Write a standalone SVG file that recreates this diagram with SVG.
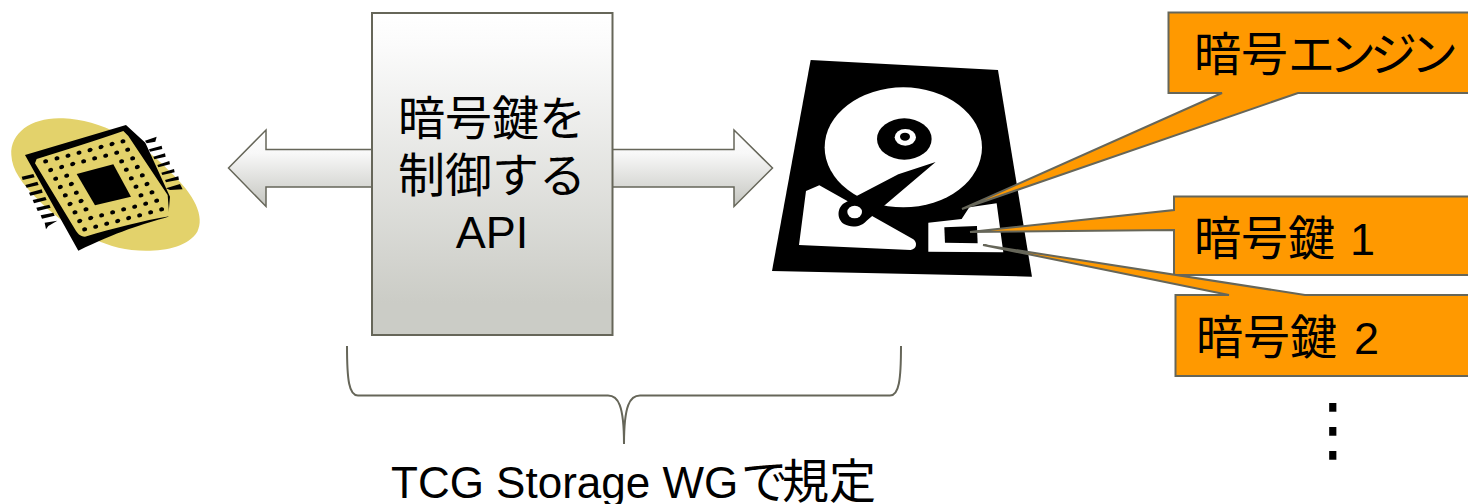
<svg xmlns="http://www.w3.org/2000/svg" width="1468" height="504" viewBox="0 0 1468 504">
  <style>
    text { font-family: "Liberation Sans", "Noto Sans CJK JP", sans-serif; fill: #000; }
    .api { font-size: 47px; text-anchor: middle; }
    .tag { font-size: 47px; }
    .edge { stroke: #666659; stroke-width: 2; stroke-linejoin: miter; }
    .callout { fill: #ff9900; stroke: #666659; stroke-width: 2; stroke-linejoin: miter; }
  </style>
  <defs>
    <linearGradient id="steel" x1="0" y1="0" x2="0" y2="1">
      <stop offset="0" stop-color="#ffffff"/>
      <stop offset="0.1" stop-color="#fbfbfb"/>
      <stop offset="0.9" stop-color="#cbccc6"/>
      <stop offset="1" stop-color="#cbccc6"/>
    </linearGradient>
    <linearGradient id="steel-arrow" gradientUnits="userSpaceOnUse" x1="0" y1="130" x2="0" y2="207">
      <stop offset="0" stop-color="#ffffff"/>
      <stop offset="0.3" stop-color="#f8f8f8"/>
      <stop offset="1" stop-color="#c4c5bf"/>
    </linearGradient>
    <g id="pad"><ellipse rx="7.600" ry="6.300" transform="rotate(-15)"/></g>
  </defs>

  <!-- processor chip clip art, coordinates at 3x -->
  <g id="chip" transform="translate(0 100) scale(0.3333)">
    <path fill="#e3d26b" d="M34 165C30 95 100 50 190 55C300 60 420 120 510 215C585 285 615 350 592 395C562 445 475 458 395 450C290 437 190 375 115 300C65 250 36 210 34 165Z"/>
    <path fill="#000" d="M378 75L436 128L510 290L505 350C430 372 350 395 235 452L75 165Z"/>
    <path fill="#e3d26b" d="M110 177C200 150 290 120 370 93L385 108L503 285L508 349C430 362 340 385 255 410C240 410 232 400 225 388L105 190Z"/>
    <path fill="#000" d="M230 222L340 193L393 290L285 316Z"/>
    <g fill="#000">
      <path d="M435 122L470 110L466 125L440 130Z"/>
      <path d="M447 148L485 137L487 147L450 155Z"/>
      <path d="M460 170L495 160L497 170L463 178Z"/>
      <path d="M472 195L508 183L510 193L475 202Z"/>
      <path d="M484 218L522 207L524 217L487 225Z"/>
      <path d="M495 240L535 229L537 239L498 247Z"/>
      <path d="M498 265L540 252L548 268L510 270Z"/>
      <path d="M65 230L100 222L104 232L68 240Z"/>
      <path d="M76 255L112 245L116 255L80 263Z"/>
      <path d="M87 278L125 268L128 278L91 287Z"/>
      <path d="M98 300L136 291L140 300L102 310Z"/>
      <path d="M109 323L148 314L152 323L113 333Z"/>
      <path d="M122 346L160 338L164 347L126 356Z"/>
      <path d="M134 368L172 362L145 378L138 388Z"/>
    </g>
    <g fill="#000">
      <use href="#pad" x="137" y="184"/><use href="#pad" x="171" y="175"/><use href="#pad" x="204" y="167"/><use href="#pad" x="237" y="158"/><use href="#pad" x="270" y="150"/><use href="#pad" x="303" y="141"/><use href="#pad" x="336" y="132"/><use href="#pad" x="369" y="124"/>
      <use href="#pad" x="152" y="210"/><use href="#pad" x="185" y="201"/><use href="#pad" x="218" y="192"/><use href="#pad" x="251" y="184"/><use href="#pad" x="284" y="175"/><use href="#pad" x="317" y="167"/><use href="#pad" x="350" y="158"/><use href="#pad" x="383" y="149"/>
      <use href="#pad" x="167" y="236"/><use href="#pad" x="200" y="227"/><use href="#pad" x="365" y="184"/><use href="#pad" x="398" y="175"/>
      <use href="#pad" x="181" y="261"/><use href="#pad" x="214" y="252"/><use href="#pad" x="379" y="209"/><use href="#pad" x="412" y="201"/>
      <use href="#pad" x="196" y="286"/><use href="#pad" x="229" y="278"/><use href="#pad" x="394" y="235"/><use href="#pad" x="427" y="226"/>
      <use href="#pad" x="210" y="312"/><use href="#pad" x="243" y="303"/><use href="#pad" x="408" y="260"/><use href="#pad" x="441" y="252"/>
      <use href="#pad" x="225" y="337"/><use href="#pad" x="258" y="328"/><use href="#pad" x="423" y="286"/><use href="#pad" x="456" y="277"/>
      <use href="#pad" x="239" y="363"/><use href="#pad" x="272" y="354"/><use href="#pad" x="305" y="346"/><use href="#pad" x="338" y="337"/><use href="#pad" x="371" y="328"/><use href="#pad" x="404" y="320"/><use href="#pad" x="437" y="311"/><use href="#pad" x="470" y="302"/>
      <use href="#pad" x="254" y="388"/><use href="#pad" x="287" y="380"/><use href="#pad" x="320" y="371"/><use href="#pad" x="353" y="363"/><use href="#pad" x="386" y="354"/><use href="#pad" x="419" y="346"/><use href="#pad" x="452" y="337"/><use href="#pad" x="485" y="328"/>
    </g>
  </g>

  <!-- connectors: the arrow runs behind the API box -->
  <g id="connectors">
    <path d="M228.500 168L266 130V149.500H734V130L772.500 168L734 206.500V187H266V206.500Z" fill="url(#steel-arrow)" stroke="#666659" stroke-width="1.500"/>
    <path d="M347 346C347 380 349 395.500 358 395.500H608C618 395.500 624 405 624 444C624 405 630 395.500 640 395.500H890C899 395.500 901 380 901 346" fill="none" class="edge"/>
  </g>

  <!-- API box -->
  <g id="api-box">
    <rect x="372" y="13" width="240.500" height="322" fill="url(#steel)" class="edge"/>
    <text class="api" x="492" y="134.500">暗号鍵を</text>
    <text class="api" x="492" y="191.500">制御する</text>
    <text class="api" x="492" y="248" style="font-size:45px">API</text>
  </g>

  <!-- disk drive clip art, coordinates at 3x -->
  <g id="disk" transform="translate(760 50) scale(0.3333)">
    <path fill="#000" d="M152 30L714 60L816 680L36 663Z"/>
    <ellipse cx="430" cy="292" rx="236" ry="180" fill="#fff"/>
    <ellipse cx="433" cy="267" rx="82" ry="62" fill="#000"/>
    <ellipse cx="436" cy="262" rx="32" ry="25" fill="#fff"/>
    <ellipse cx="435" cy="260" rx="15" ry="12" fill="#000"/>
    <path fill="#fff" d="M138 423L178 406L262 453L335 497L460 568C472 576 472 598 452 600L117 585Z"/>
    <path fill="#000" d="M527 336L415 373L290 438L255 458C232 470 228 505 252 522C275 535 305 530 320 512L375 465Z"/>
    <ellipse cx="284" cy="486" rx="22" ry="19" fill="#fff"/>
    <path fill="#fff" d="M505 518L605 507L628 472L710 460L730 607L505 605Z"/>
    <path fill="#000" d="M553 532L651 528L653 580L555 578Z"/>
  </g>

  <!-- callouts pointing into the drive -->
  <g id="callout-engine">
    <path class="callout" d="M1469 12.500H1168.500V93H1222L962 209L1298 93H1469Z"/>
    <text class="tag" x="1194" y="71">暗号<tspan letter-spacing="-6">エンジン</tspan></text>
  </g>
  <g id="callout-key-1">
    <path class="callout" d="M1469 196.500H1174V210L970 232L1174 230V275H1469Z"/>
    <text class="tag" x="1194" y="255">暗号鍵<tspan x="1350" style="font-size:45px">1</tspan></text>
  </g>
  <g id="callout-key-2">
    <path class="callout" d="M1469 295H1305L983 245L1229 295H1175.500V376H1469Z"/>
    <text class="tag" x="1196" y="354">暗号鍵<tspan x="1354" style="font-size:45px">2</tspan></text>
  </g>

  <g id="more-keys">
    <text x="1333" y="453" style="font-family:'DejaVu Sans',sans-serif;font-size:70px;text-anchor:middle">⋮</text>
  </g>

  <g id="scope-label">
    <text x="391" y="498" style="font-size:44px">TCG Storage WG<tspan x="741" style="font-size:47px" letter-spacing="-4">で</tspan><tspan x="782" style="font-size:47px">規定</tspan></text>
  </g>
</svg>
